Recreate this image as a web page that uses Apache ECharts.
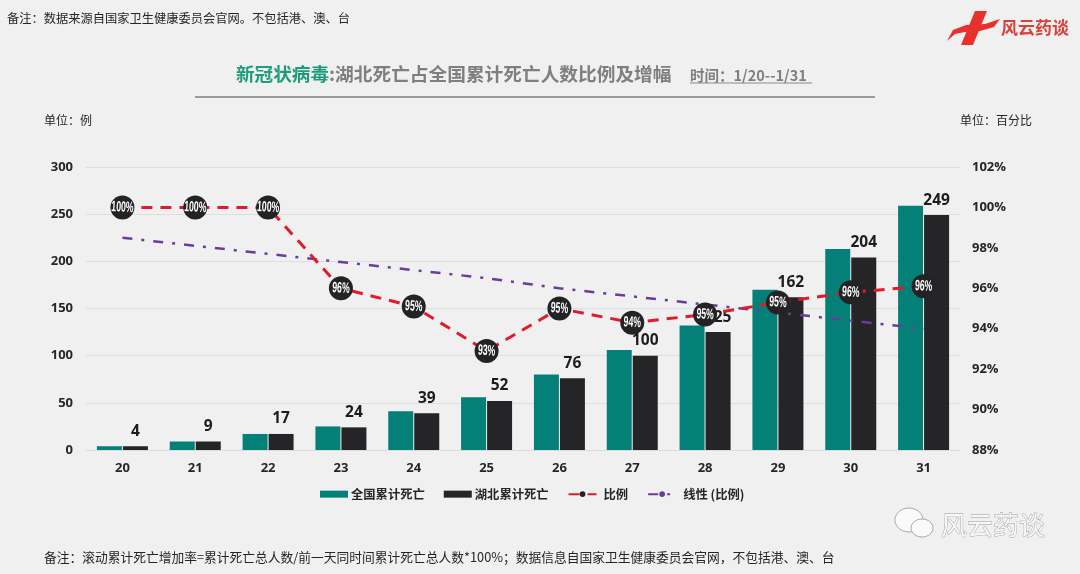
<!DOCTYPE html>
<html><head><meta charset="utf-8">
<style>html,body{margin:0;padding:0;background:#f0f0f1}#c{width:1080px;height:574px}</style>
<script src="https://cdn.jsdelivr.net/npm/echarts@6/dist/echarts.min.js"></script>
</head><body><div id="c"></div>
<script>
const days = ['20','21','22','23','24','25','26','27','28','29','30','31'];
const nationalDeaths = [4,9,17,25,41,56,80,106,132,170,213,259];
const hubeiDeaths = [4,9,17,24,39,52,76,100,125,162,204,249];
const ratioPct = [100,100,100,96,95.1,92.9,95,94.3,94.7,95.3,95.8,96.1];
const trendPct = [98.5,98.1,97.7,97.3,96.9,96.5,96.0,95.6,95.2,94.8,94.4,94.0];
const leftTicks = {min:0,max:300,interval:50};
const rightTicks = {min:88,max:102,interval:2};

const CJK = '"Noto Sans CJK SC","Noto Sans",sans-serif';
const NUM = '"Open Sans","Noto Sans",sans-serif';
const chart = echarts.init(document.getElementById('c'));
const txt = (x,y,text,style) => ({type:'text',x,y,silent:true,style:Object.assign({text,fontFamily:CJK,fontSize:12,fill:'#262626',textVerticalAlign:'middle'},style||{})});
const legendPad = {padding:[0,0,0,2]};
chart.setOption({
  animation:false,
  backgroundColor:'#f0f0f1',
  grid:{left:86,right:120,top:167,bottom:124},
  legend:{
    left:320,top:488,padding:0,itemGap:19,itemWidth:28,itemHeight:7,
    textStyle:{fontFamily:CJK,fontSize:12.3,fontWeight:'bold',color:'#262626',padding:[0,0,0,-2]},
    data:[{name:'全国累计死亡',icon:'rect'},{name:'湖北累计死亡',icon:'rect'},
      {name:'比例',textStyle:legendPad},{name:'线性 (比例)',textStyle:legendPad}]
  },
  xAxis:{type:'category',data:days,
    axisLine:{lineStyle:{color:'#dcdcdc'}},axisTick:{show:false},
    axisLabel:{margin:12,fontFamily:NUM,fontSize:13,fontWeight:'bold',color:'#262626'}},
  yAxis:[
    Object.assign({type:'value',position:'left',
      axisLine:{show:false},axisTick:{show:false},
      splitLine:{lineStyle:{color:'#dedede',width:1}},
      axisLabel:{margin:13,fontFamily:NUM,fontSize:13,fontWeight:'bold',color:'#262626'}},leftTicks),
    Object.assign({type:'value',position:'right',
      axisLine:{show:false},axisTick:{show:false},splitLine:{show:false},
      axisLabel:{margin:12,fontFamily:NUM,fontSize:13,fontWeight:'bold',color:'#262626',formatter:'{value}%'}},rightTicks)
  ],
  series:[
    {name:'全国累计死亡',type:'bar',data:nationalDeaths,barWidth:25,barGap:'4%',z:2,
      itemStyle:{color:'#058078'}},
    {name:'湖北累计死亡',type:'bar',data:hubeiDeaths,barWidth:25,z:2,
      itemStyle:{color:'#252528'},
      label:{show:true,position:'top',distance:7,fontFamily:NUM,fontSize:15.5,fontWeight:'bold',color:'#1c1c1c'}},
    {name:'线性 (比例)',type:'line',yAxisIndex:1,data:trendPct,symbol:'none',z:3,
      lineStyle:{color:'#6a3d9a',width:2.5,type:[10,9,3,9]},itemStyle:{color:'#6a3d9a'}},
    {name:'比例',type:'line',yAxisIndex:1,data:ratioPct,z:4,
      symbol:'circle',symbolSize:24,
      lineStyle:{color:'#e01b2c',width:3,type:[11,8]},
      itemStyle:{color:'#232326'}},
    {name:'比例标签',type:'custom',yAxisIndex:1,z:5,silent:true,
      data:ratioPct.map((v,i)=>[i,v]),
      encode:{x:0,y:1},
      renderItem:(params,api)=>{
        const p=api.coord([api.value(0),api.value(1)]);
        return {type:'text',x:p[0],y:p[1],scaleX:0.58,rotation:-0.06,
          style:{text:Math.round(api.value(1))+'%',fontFamily:'"Liberation Sans",sans-serif',fontSize:15,fontWeight:'bold',fill:'#fff',
            textAlign:'center',textVerticalAlign:'middle'}};
      }}
  ],
  graphic:[
    txt(7,18,'备注：数据来源自国家卫生健康委员会官网。不包括港、澳、台',{fontSize:12.25}),
    txt(236,74,'新冠状病毒',{fontSize:18.6,fontWeight:'bold',fill:'#1f9c7c'}),
    txt(329,74,':湖北死亡占全国累计死亡人数比例及增幅',{fontSize:18.7,fontWeight:'bold',fill:'#7f7f7f'}),
    txt(690,75,'时间：1/20--1/31',{fontSize:14.5,fontWeight:'bold',fill:'#7f7f7f'}),
    {type:'line',silent:true,shape:{x1:690,y1:83,x2:812,y2:83},style:{stroke:'#8a8a8a',lineWidth:1}},
    {type:'line',silent:true,shape:{x1:195,y1:97,x2:875,y2:97},style:{stroke:'#7f7f7f',lineWidth:1.6}},
    txt(44,120,'单位：例',{fontSize:12}),
    txt(960,120,'单位：百分比',{fontSize:12}),
    txt(44,557,'备注：滚动累计死亡增加率=累计死亡总人数/前一天同时间累计死亡总人数*100%；数据信息自国家卫生健康委员会官网，不包括港、澳、台',{fontSize:12.75}),
    // logo
    {type:'polygon',silent:true,shape:{points:[[975,11],[987,11],[973,45],[961,45]]},style:{fill:'#e8302c'}},
    {type:'polygon',silent:true,shape:{points:[[947,41],[953,30],[966,25],[985,24],[1000,19],[994,27],[980,31],[965,32],[955,34]]},style:{fill:'#e8302c'}},
    txt(1001,28,'风云药谈',{fontSize:17,fontWeight:'bold',fill:'#d9403a'}),
    // watermark
    {type:'ellipse',silent:true,shape:{cx:909,cy:520,rx:14,ry:12},style:{fill:'#fafafa',stroke:'#a8a8a8',lineWidth:1}},
    {type:'ellipse',silent:true,shape:{cx:922,cy:528,rx:11,ry:9},style:{fill:'#fafafa',stroke:'#a8a8a8',lineWidth:1}},
    txt(941,525,'风云药谈',{fontSize:26,fill:'#f7f7f7',stroke:'#9a9a9a',lineWidth:0.8})
  ]
});
</script></body></html>
